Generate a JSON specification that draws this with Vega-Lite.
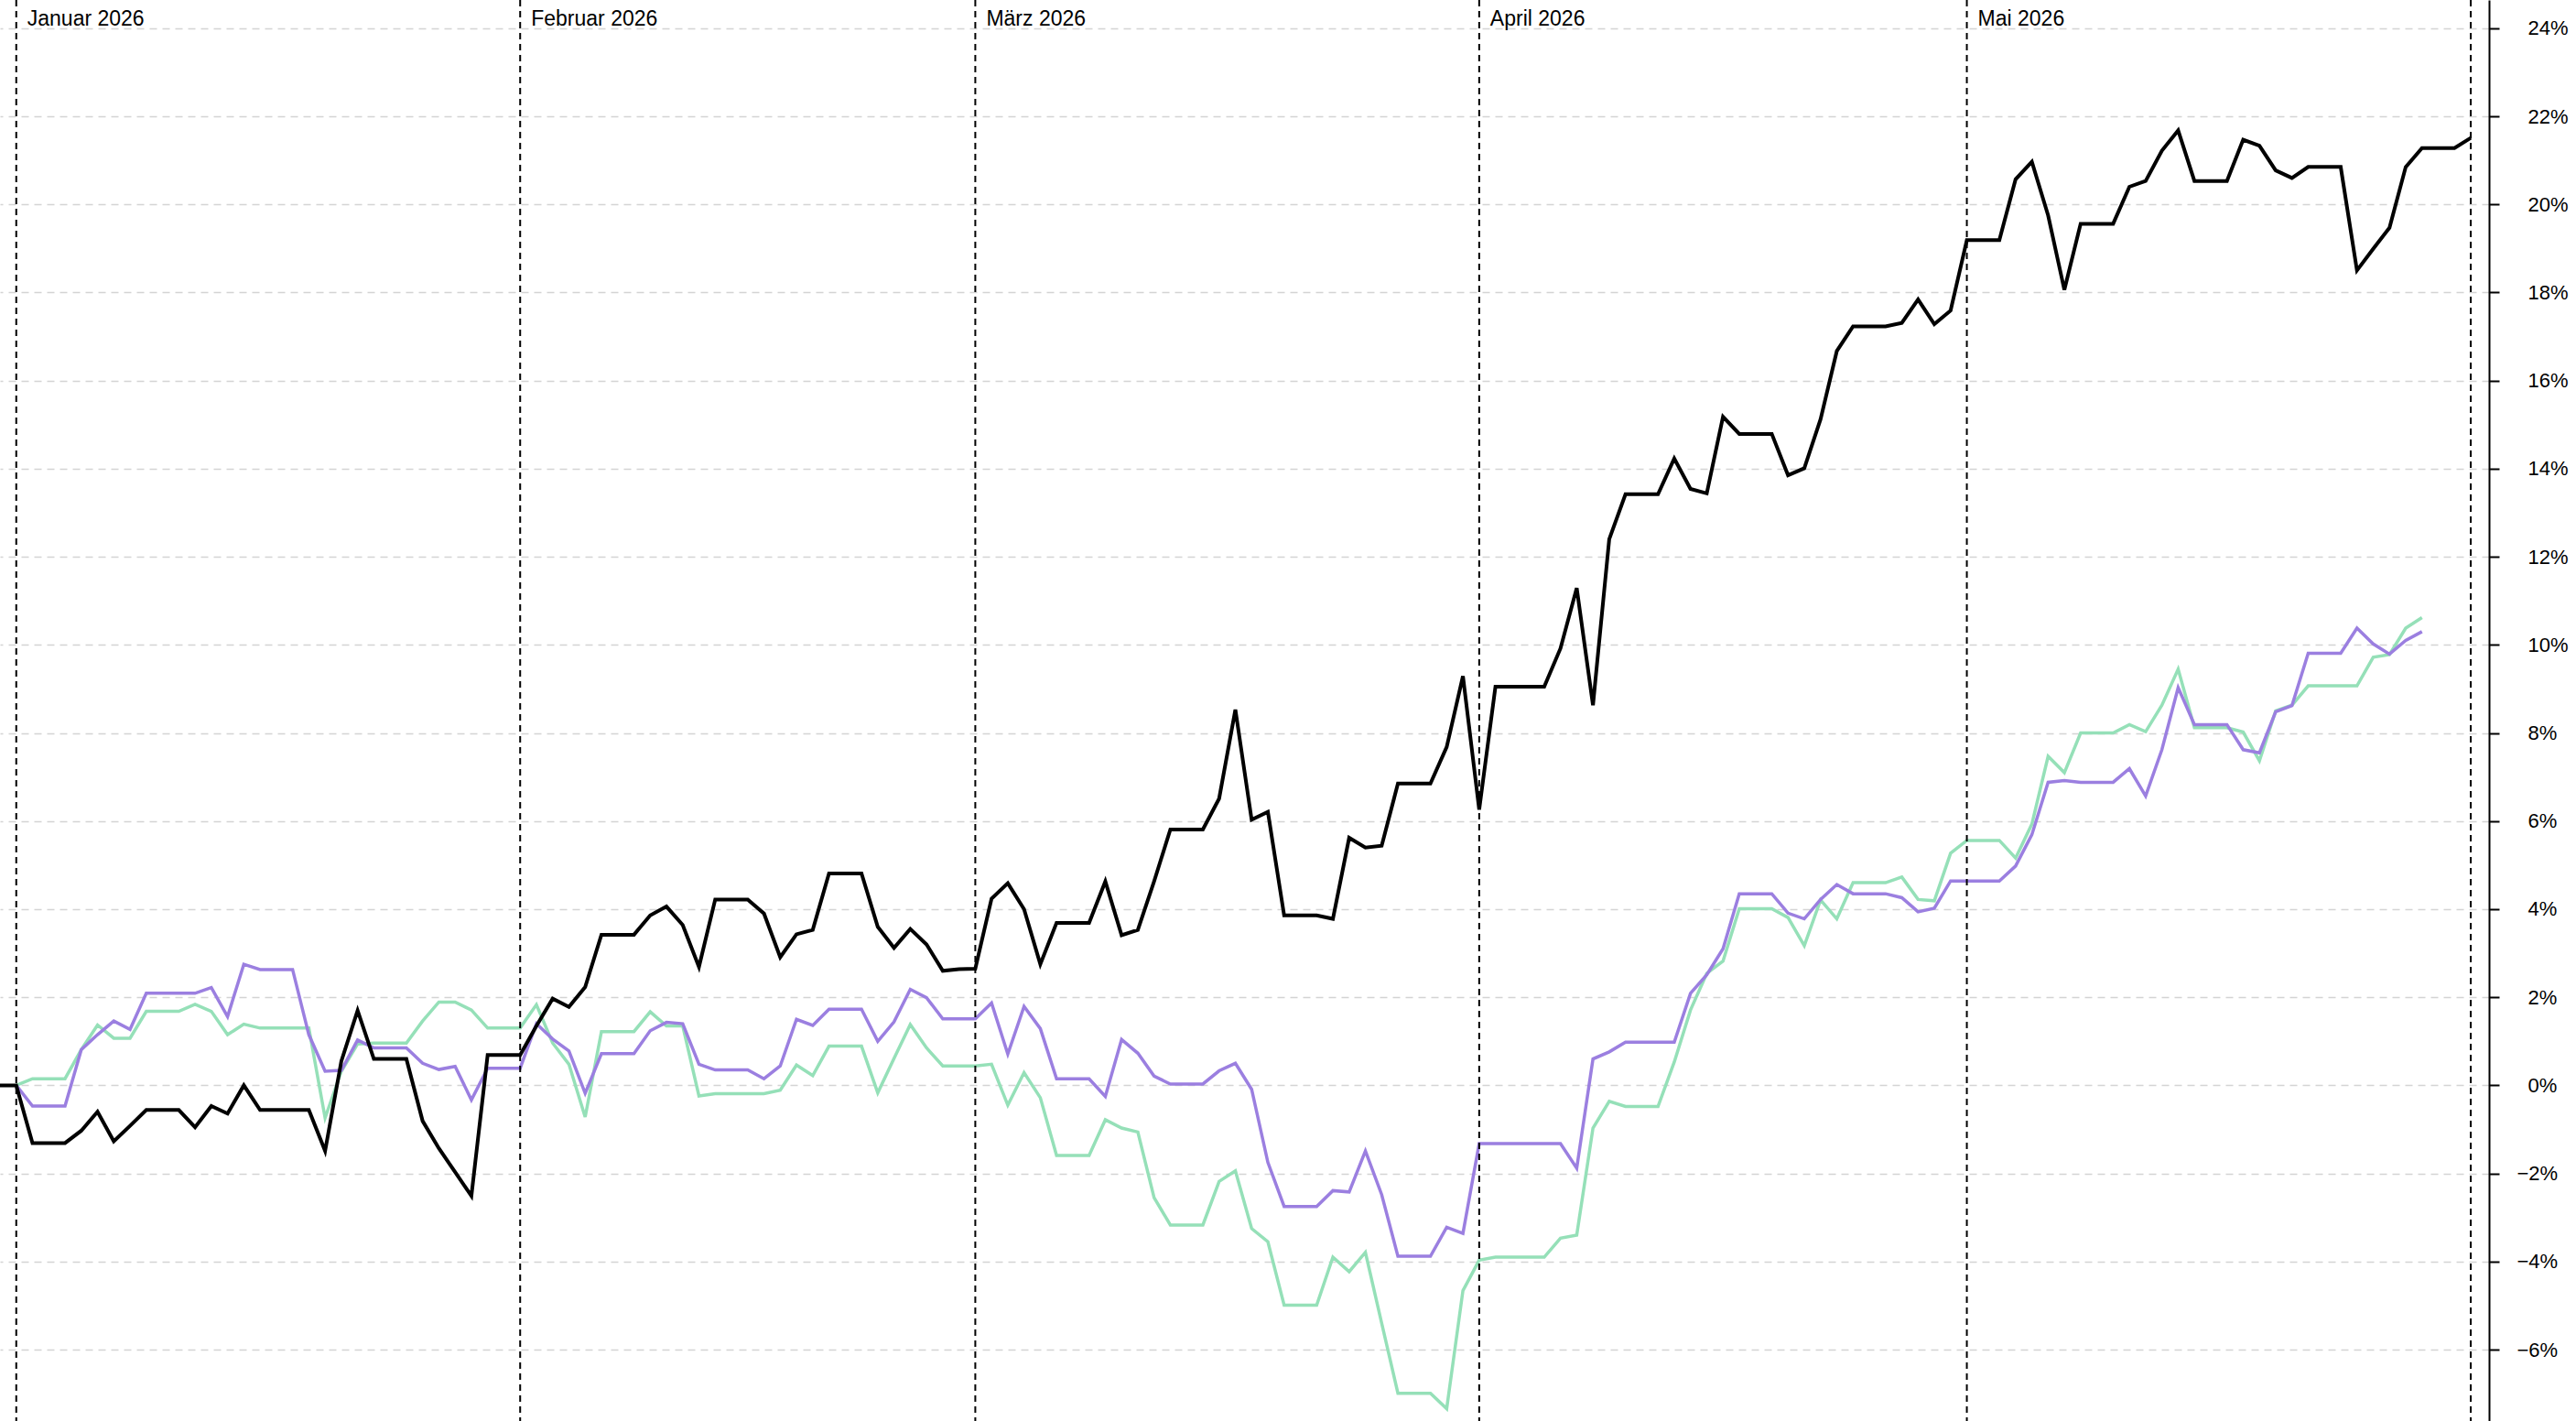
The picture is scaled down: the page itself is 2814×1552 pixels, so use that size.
{
  "$schema": "https://vega.github.io/schema/vega-lite/v6.json",
  "width": 2719,
  "height": 1552,
  "autosize": {"type": "none"},
  "padding": {"left": 0, "top": 0, "right": 95, "bottom": 0},
  "background": "white",
  "config": {"view": {"stroke": null}, "font": "Liberation Sans"},
  "datasets": {
    "months": [
      {"date": "2026-01-01", "label": "Januar 2026"},
      {"date": "2026-02-01", "label": "Februar 2026"},
      {"date": "2026-03-01", "label": "März 2026"},
      {"date": "2026-04-01", "label": "April 2026"},
      {"date": "2026-05-01", "label": "Mai 2026"},
      {"date": "2026-06-01", "label": ""}
    ],
    "perf": [
      {"date": "2025-12-31", "black": 0},
      {"date": "2026-01-01", "black": 0, "purple": 0, "green": 0},
      {"date": "2026-01-02", "black": -1.31, "purple": -0.47, "green": 0.15},
      {"date": "2026-01-03", "black": -1.31, "purple": -0.47, "green": 0.15},
      {"date": "2026-01-04", "black": -1.31, "purple": -0.47, "green": 0.15},
      {"date": "2026-01-05", "black": -1.03, "purple": 0.81, "green": 0.81},
      {"date": "2026-01-06", "black": -0.6, "purple": 1.15, "green": 1.37},
      {"date": "2026-01-07", "black": -1.27, "purple": 1.46, "green": 1.07},
      {"date": "2026-01-08", "black": -0.92, "purple": 1.27, "green": 1.07},
      {"date": "2026-01-09", "black": -0.56, "purple": 2.09, "green": 1.68},
      {"date": "2026-01-10", "black": -0.56, "purple": 2.09, "green": 1.68},
      {"date": "2026-01-11", "black": -0.56, "purple": 2.09, "green": 1.68},
      {"date": "2026-01-12", "black": -0.95, "purple": 2.09, "green": 1.84},
      {"date": "2026-01-13", "black": -0.47, "purple": 2.22, "green": 1.68},
      {"date": "2026-01-14", "black": -0.64, "purple": 1.56, "green": 1.15},
      {"date": "2026-01-15", "black": 0, "purple": 2.75, "green": 1.39},
      {"date": "2026-01-16", "black": -0.56, "purple": 2.63, "green": 1.3},
      {"date": "2026-01-17", "black": -0.56, "purple": 2.63, "green": 1.3},
      {"date": "2026-01-18", "black": -0.56, "purple": 2.63, "green": 1.3},
      {"date": "2026-01-19", "black": -0.56, "purple": 1.15, "green": 1.3},
      {"date": "2026-01-20", "black": -1.49, "purple": 0.32, "green": -0.74},
      {"date": "2026-01-21", "black": 0.55, "purple": 0.34, "green": 0.32},
      {"date": "2026-01-22", "black": 1.7, "purple": 1.03, "green": 0.94},
      {"date": "2026-01-23", "black": 0.6, "purple": 0.85, "green": 0.96},
      {"date": "2026-01-24", "black": 0.6, "purple": 0.85, "green": 0.96},
      {"date": "2026-01-25", "black": 0.6, "purple": 0.85, "green": 0.96},
      {"date": "2026-01-26", "black": -0.81, "purple": 0.5, "green": 1.46},
      {"date": "2026-01-27", "black": -1.43, "purple": 0.36, "green": 1.89},
      {"date": "2026-01-28", "black": -1.97, "purple": 0.43, "green": 1.89},
      {"date": "2026-01-29", "black": -2.51, "purple": -0.33, "green": 1.71},
      {"date": "2026-01-30", "black": 0.69, "purple": 0.39, "green": 1.3},
      {"date": "2026-01-31", "black": 0.69, "purple": 0.39, "green": 1.3},
      {"date": "2026-02-01", "black": 0.69, "purple": 0.39, "green": 1.3},
      {"date": "2026-02-02", "black": 1.35, "purple": 1.4, "green": 1.83},
      {"date": "2026-02-03", "black": 1.97, "purple": 1.05, "green": 0.96},
      {"date": "2026-02-04", "black": 1.78, "purple": 0.78, "green": 0.48},
      {"date": "2026-02-05", "black": 2.23, "purple": -0.18, "green": -0.72},
      {"date": "2026-02-06", "black": 3.42, "purple": 0.72, "green": 1.22},
      {"date": "2026-02-07", "black": 3.42, "purple": 0.72, "green": 1.22},
      {"date": "2026-02-08", "black": 3.42, "purple": 0.72, "green": 1.22},
      {"date": "2026-02-09", "black": 3.86, "purple": 1.24, "green": 1.67},
      {"date": "2026-02-10", "black": 4.06, "purple": 1.43, "green": 1.35},
      {"date": "2026-02-11", "black": 3.64, "purple": 1.4, "green": 1.35},
      {"date": "2026-02-12", "black": 2.69, "purple": 0.48, "green": -0.24},
      {"date": "2026-02-13", "black": 4.22, "purple": 0.35, "green": -0.19},
      {"date": "2026-02-14", "black": 4.22, "purple": 0.35, "green": -0.19},
      {"date": "2026-02-15", "black": 4.22, "purple": 0.35, "green": -0.19},
      {"date": "2026-02-16", "black": 3.9, "purple": 0.15, "green": -0.19},
      {"date": "2026-02-17", "black": 2.91, "purple": 0.44, "green": -0.11},
      {"date": "2026-02-18", "black": 3.43, "purple": 1.5, "green": 0.46},
      {"date": "2026-02-19", "black": 3.53, "purple": 1.36, "green": 0.22},
      {"date": "2026-02-20", "black": 4.81, "purple": 1.73, "green": 0.89},
      {"date": "2026-02-21", "black": 4.81, "purple": 1.73, "green": 0.89},
      {"date": "2026-02-22", "black": 4.81, "purple": 1.73, "green": 0.89},
      {"date": "2026-02-23", "black": 3.6, "purple": 1.0, "green": -0.17},
      {"date": "2026-02-24", "black": 3.12, "purple": 1.44, "green": 0.61},
      {"date": "2026-02-25", "black": 3.55, "purple": 2.18, "green": 1.38},
      {"date": "2026-02-26", "black": 3.2, "purple": 1.99, "green": 0.85},
      {"date": "2026-02-27", "black": 2.6, "purple": 1.51, "green": 0.44},
      {"date": "2026-02-28", "black": 2.64, "purple": 1.51, "green": 0.44},
      {"date": "2026-03-01", "black": 2.65, "purple": 1.51, "green": 0.44},
      {"date": "2026-03-02", "black": 4.24, "purple": 1.87, "green": 0.48},
      {"date": "2026-03-03", "black": 4.59, "purple": 0.71, "green": -0.45},
      {"date": "2026-03-04", "black": 4.0, "purple": 1.79, "green": 0.29},
      {"date": "2026-03-05", "black": 2.75, "purple": 1.29, "green": -0.28},
      {"date": "2026-03-06", "black": 3.69, "purple": 0.15, "green": -1.59},
      {"date": "2026-03-07", "black": 3.69, "purple": 0.15, "green": -1.59},
      {"date": "2026-03-08", "black": 3.69, "purple": 0.15, "green": -1.59},
      {"date": "2026-03-09", "black": 4.63, "purple": -0.25, "green": -0.78},
      {"date": "2026-03-10", "black": 3.41, "purple": 1.04, "green": -0.97},
      {"date": "2026-03-11", "black": 3.53, "purple": 0.73, "green": -1.06},
      {"date": "2026-03-12", "black": 4.63, "purple": 0.21, "green": -2.55},
      {"date": "2026-03-13", "black": 5.81, "purple": 0.03, "green": -3.17},
      {"date": "2026-03-14", "black": 5.81, "purple": 0.03, "green": -3.17},
      {"date": "2026-03-15", "black": 5.81, "purple": 0.03, "green": -3.17},
      {"date": "2026-03-16", "black": 6.51, "purple": 0.33, "green": -2.18},
      {"date": "2026-03-17", "black": 8.53, "purple": 0.5, "green": -1.94},
      {"date": "2026-03-18", "black": 6.03, "purple": -0.09, "green": -3.25},
      {"date": "2026-03-19", "black": 6.21, "purple": -1.75, "green": -3.55},
      {"date": "2026-03-20", "black": 3.86, "purple": -2.75, "green": -4.99},
      {"date": "2026-03-21", "black": 3.86, "purple": -2.75, "green": -4.99},
      {"date": "2026-03-22", "black": 3.86, "purple": -2.75, "green": -4.99},
      {"date": "2026-03-23", "black": 3.78, "purple": -2.39, "green": -3.9},
      {"date": "2026-03-24", "black": 5.62, "purple": -2.42, "green": -4.23},
      {"date": "2026-03-25", "black": 5.4, "purple": -1.49, "green": -3.79},
      {"date": "2026-03-26", "black": 5.44, "purple": -2.48, "green": -5.4},
      {"date": "2026-03-27", "black": 6.85, "purple": -3.88, "green": -6.99},
      {"date": "2026-03-28", "black": 6.85, "purple": -3.88, "green": -6.99},
      {"date": "2026-03-29", "black": 6.85, "purple": -3.88, "green": -6.99},
      {"date": "2026-03-30", "black": 7.68, "purple": -3.22, "green": -7.34},
      {"date": "2026-03-31", "black": 9.29, "purple": -3.36, "green": -4.66},
      {"date": "2026-04-01", "black": 6.26, "purple": -1.32, "green": -3.97},
      {"date": "2026-04-02", "black": 9.05, "purple": -1.32, "green": -3.9},
      {"date": "2026-04-03", "black": 9.05, "purple": -1.32, "green": -3.9},
      {"date": "2026-04-04", "black": 9.05, "purple": -1.32, "green": -3.9},
      {"date": "2026-04-05", "black": 9.05, "purple": -1.32, "green": -3.9},
      {"date": "2026-04-06", "black": 9.92, "purple": -1.32, "green": -3.47},
      {"date": "2026-04-07", "black": 11.29, "purple": -1.88, "green": -3.4},
      {"date": "2026-04-08", "black": 8.63, "purple": 0.6, "green": -0.97},
      {"date": "2026-04-09", "black": 12.4, "purple": 0.76, "green": -0.36},
      {"date": "2026-04-10", "black": 13.42, "purple": 0.98, "green": -0.48},
      {"date": "2026-04-11", "black": 13.42, "purple": 0.98, "green": -0.48},
      {"date": "2026-04-12", "black": 13.42, "purple": 0.98, "green": -0.48},
      {"date": "2026-04-13", "black": 14.23, "purple": 0.98, "green": 0.53},
      {"date": "2026-04-14", "black": 13.54, "purple": 2.09, "green": 1.71},
      {"date": "2026-04-15", "black": 13.44, "purple": 2.51, "green": 2.54},
      {"date": "2026-04-16", "black": 15.18, "purple": 3.1, "green": 2.82},
      {"date": "2026-04-17", "black": 14.79, "purple": 4.35, "green": 4.01},
      {"date": "2026-04-18", "black": 14.79, "purple": 4.35, "green": 4.01},
      {"date": "2026-04-19", "black": 14.79, "purple": 4.35, "green": 4.01},
      {"date": "2026-04-20", "black": 13.85, "purple": 3.91, "green": 3.81},
      {"date": "2026-04-21", "black": 14.01, "purple": 3.78, "green": 3.17},
      {"date": "2026-04-22", "black": 15.12, "purple": 4.22, "green": 4.21},
      {"date": "2026-04-23", "black": 16.67, "purple": 4.56, "green": 3.78},
      {"date": "2026-04-24", "black": 17.23, "purple": 4.35, "green": 4.6},
      {"date": "2026-04-25", "black": 17.23, "purple": 4.35, "green": 4.6},
      {"date": "2026-04-26", "black": 17.23, "purple": 4.35, "green": 4.6},
      {"date": "2026-04-27", "black": 17.31, "purple": 4.26, "green": 4.73},
      {"date": "2026-04-28", "black": 17.84, "purple": 3.94, "green": 4.22},
      {"date": "2026-04-29", "black": 17.28, "purple": 4.02, "green": 4.19},
      {"date": "2026-04-30", "black": 17.59, "purple": 4.64, "green": 5.27},
      {"date": "2026-05-01", "black": 19.19, "purple": 4.64, "green": 5.56},
      {"date": "2026-05-02", "black": 19.19, "purple": 4.64, "green": 5.56},
      {"date": "2026-05-03", "black": 19.19, "purple": 4.64, "green": 5.56},
      {"date": "2026-05-04", "black": 20.57, "purple": 4.98, "green": 5.16},
      {"date": "2026-05-05", "black": 20.97, "purple": 5.69, "green": 5.93},
      {"date": "2026-05-06", "black": 19.75, "purple": 6.88, "green": 7.47},
      {"date": "2026-05-07", "black": 18.06, "purple": 6.92, "green": 7.1},
      {"date": "2026-05-08", "black": 19.56, "purple": 6.88, "green": 8.0},
      {"date": "2026-05-09", "black": 19.56, "purple": 6.88, "green": 8.0},
      {"date": "2026-05-10", "black": 19.56, "purple": 6.88, "green": 8.0},
      {"date": "2026-05-11", "black": 20.4, "purple": 7.19, "green": 8.19},
      {"date": "2026-05-12", "black": 20.53, "purple": 6.57, "green": 8.03},
      {"date": "2026-05-13", "black": 21.22, "purple": 7.62, "green": 8.63},
      {"date": "2026-05-14", "black": 21.68, "purple": 9.03, "green": 9.45},
      {"date": "2026-05-15", "black": 20.53, "purple": 8.19, "green": 8.12},
      {"date": "2026-05-16", "black": 20.53, "purple": 8.19, "green": 8.12},
      {"date": "2026-05-17", "black": 20.53, "purple": 8.19, "green": 8.12},
      {"date": "2026-05-18", "black": 21.47, "purple": 7.62, "green": 8.02},
      {"date": "2026-05-19", "black": 21.33, "purple": 7.55, "green": 7.37},
      {"date": "2026-05-20", "black": 20.77, "purple": 8.48, "green": 8.5},
      {"date": "2026-05-21", "black": 20.6, "purple": 8.62, "green": 8.63},
      {"date": "2026-05-22", "black": 20.85, "purple": 9.81, "green": 9.07},
      {"date": "2026-05-23", "black": 20.85, "purple": 9.81, "green": 9.07},
      {"date": "2026-05-24", "black": 20.85, "purple": 9.81, "green": 9.07},
      {"date": "2026-05-25", "black": 18.5, "purple": 10.38, "green": 9.07},
      {"date": "2026-05-26", "black": 18.99, "purple": 10.02, "green": 9.72},
      {"date": "2026-05-27", "black": 19.47, "purple": 9.79, "green": 9.78},
      {"date": "2026-05-28", "black": 20.85, "purple": 10.1, "green": 10.38},
      {"date": "2026-05-29", "black": 21.28, "purple": 10.3, "green": 10.62},
      {"date": "2026-05-30", "black": 21.28},
      {"date": "2026-05-31", "black": 21.28},
      {"date": "2026-06-01", "black": 21.51}
    ]
  },
  "layer": [
    {
      "data": {"name": "perf"},
      "mark": {"type": "line", "color": "#95e0b8", "strokeWidth": 3.5, "strokeJoin": "miter"},
      "encoding": {
        "x": {
          "field": "date",
          "type": "temporal",
          "scale": {"type": "utc", "domain": [1767139200000, 1780369200000]},
          "axis": null
        },
        "y": {
          "field": "green",
          "type": "quantitative",
          "scale": {"domain": [-7.62, 24.64], "nice": false, "zero": false},
          "axis": {
            "orient": "right",
            "title": null,
            "values": [-6, -4, -2, 0, 2, 4, 6, 8, 10, 12, 14, 16, 18, 20, 22, 24],
            "grid": true,
            "gridColor": "#d4d4d4",
            "gridDash": [8, 6],
            "gridWidth": 1.5,
            "domainColor": "black",
            "domainWidth": 2,
            "tickColor": "black",
            "tickWidth": 2,
            "tickSize": 11,
            "labelFont": "Liberation Sans",
            "labelFontSize": 22,
            "labelColor": "black",
            "labelAlign": "left",
            "labelPadding": {"condition": {"test": "datum.value < 0", "value": 19}, "value": 31},
            "labelExpr": "format(datum.value, 'd') + '%'"
          }
        }
      }
    },
    {
      "data": {"name": "perf"},
      "mark": {"type": "line", "color": "#9b7fe0", "strokeWidth": 3.5, "strokeJoin": "miter"},
      "encoding": {
        "x": {"field": "date", "type": "temporal"},
        "y": {"field": "purple", "type": "quantitative"}
      }
    },
    {
      "data": {"name": "months"},
      "mark": {"type": "rule", "color": "black", "strokeWidth": 2, "strokeDash": [7, 5]},
      "encoding": {
        "x": {"field": "date", "type": "temporal"}
      }
    },
    {
      "data": {"name": "months"},
      "mark": {"type": "text", "align": "left", "baseline": "alphabetic", "dx": 12, "dy": -3, "fontSize": 23, "color": "black", "font": "Liberation Sans"},
      "encoding": {
        "x": {"field": "date", "type": "temporal"},
        "y": {"datum": 24},
        "text": {"field": "label"}
      }
    },
    {
      "data": {"name": "perf"},
      "mark": {"type": "line", "color": "black", "strokeWidth": 4, "strokeJoin": "miter"},
      "encoding": {
        "x": {"field": "date", "type": "temporal"},
        "y": {"field": "black", "type": "quantitative"}
      }
    }
  ]
}
